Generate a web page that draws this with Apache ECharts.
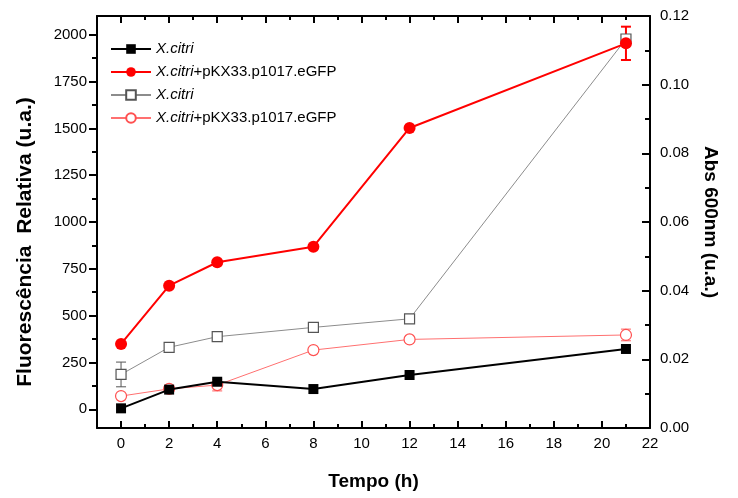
<!DOCTYPE html>
<html>
<head>
<meta charset="utf-8">
<script src="https://cdn.jsdelivr.net/npm/echarts@6/dist/echarts.min.js"></script>
<style>
html,body{margin:0;padding:0;background:#fff;}
#chart{width:738px;height:498px;}
</style>
</head>
<body>
<div id="chart"></div>
<script>
// tempo (h)
const hours = [0, 2, 4, 8, 12, 21]
// fluorescencia relativa (eixo esquerdo)
const fluorWT = [5, 105, 147, 108, 183, 322]
const fluorGFP = [349, 660, 785, 868, 1502, 1954]
const fluorGFPErr = [0, 0, 0, 0, 0, 89]
// absorbancia 600nm (eixo direito)
const absWT = [0.0156, 0.0235, 0.0266, 0.0293, 0.0318, 0.1133]
const absWTErr = [0.0036, 0, 0, 0, 0, 0]
const absGFP = [0.0093, 0.0114, 0.0125, 0.0227, 0.0258, 0.0271]
const absGFPErr = [0, 0, 0.0017, 0, 0, 0.0017]
// ticks
const xMajor = [0, 2, 4, 6, 8, 10, 12, 14, 16, 18, 20, 22]
const xMinor = [1, 3, 5, 7, 9, 11, 13, 15, 17, 19, 21]
const yMajor = [0, 250, 500, 750, 1000, 1250, 1500, 1750, 2000]
const yMinor = [125, 375, 625, 875, 1125, 1375, 1625, 1875]

const legendNames = {
    wtFl: '{i|X.citri}',
    gfpFl: '{i|X.citri}+pKX33.p1017.eGFP',
    wtAbs: '{i|X.citri}',
    gfpAbs: '{i|X.citri}+pKX33.p1017.eGFP'
}

function pairs(ys){
    return hours.map(function(h, i){ return [h, ys[i]] })
}
function errData(ys, errs){
    let arr = []
    hours.forEach(function(h, i){
        if (errs[i] > 0) arr.push([h, ys[i], errs[i]])
    })
    return arr
}
function errSeries(ys, errs, yIdx, color, width){
    return {
        type: 'custom',
        xAxisIndex: 0,
        yAxisIndex: yIdx,
        z: 1,
        silent: true,
        data: errData(ys, errs),
        renderItem: function(params, api){
            let x = api.value(0), y = api.value(1), e = api.value(2)
            let top = api.coord([x, y + e])
            let bot = api.coord([x, y - e])
            let cw = 5
            let st = {stroke: color, lineWidth: width}
            return {
                type: 'group',
                children: [
                    {type: 'line', shape: {x1: top[0], y1: top[1], x2: bot[0], y2: bot[1]}, style: st},
                    {type: 'line', shape: {x1: top[0] - cw, y1: top[1], x2: top[0] + cw, y2: top[1]}, style: st},
                    {type: 'line', shape: {x1: bot[0] - cw, y1: bot[1], x2: bot[0] + cw, y2: bot[1]}, style: st}
                ]
            }
        }
    }
}

const font = 'Liberation Sans, Arial, sans-serif'
const axisLine = {show: true, onZero: false, lineStyle: {color: '#000', width: 2}}
const noLine = {show: false, onZero: false}
const tickStyle = {color: '#000', width: 2}

const chart = echarts.init(document.getElementById('chart'))
const option = {
    animation: false,
    textStyle: {fontFamily: font},
    grid: {left: 97, right: 88, top: 16, bottom: 70},
    legend: {
        orient: 'vertical',
        left: 105,
        top: 35,
        itemWidth: 40,
        itemHeight: 12,
        itemGap: 5,
        data: ['wtFl', 'gfpFl', 'wtAbs', 'gfpAbs'],
        formatter: function(name){ return legendNames[name] },
        textStyle: {
            fontSize: 15, color: '#000', fontFamily: font, lineHeight: 18,
            rich: {i: {fontStyle: 'italic', fontSize: 15, color: '#000', fontFamily: font, lineHeight: 18}}
        }
    },
    xAxis: [
        {
            type: 'value', position: 'bottom', min: -1, max: 22,
            name: 'Tempo (h)', nameLocation: 'middle', nameGap: 44,
            nameTextStyle: {fontSize: 19, fontWeight: 'bold', color: '#000'},
            axisLine: axisLine,
            axisTick: {show: true, inside: true, length: 7, customValues: xMajor, lineStyle: tickStyle},
            axisLabel: {customValues: xMajor, fontSize: 15, color: '#000', margin: 8},
            splitLine: {show: false}
        },
        {
            type: 'value', position: 'bottom', min: -1, max: 22,
            axisLine: noLine,
            axisTick: {show: true, inside: true, length: 4, customValues: xMinor, lineStyle: tickStyle},
            axisLabel: {show: false},
            splitLine: {show: false}
        },
        {
            type: 'value', position: 'top', min: -1, max: 22,
            axisLine: axisLine,
            axisTick: {show: true, inside: true, length: 7, customValues: xMajor, lineStyle: tickStyle},
            axisLabel: {show: false},
            splitLine: {show: false}
        },
        {
            type: 'value', position: 'top', min: -1, max: 22,
            axisLine: noLine,
            axisTick: {show: true, inside: true, length: 4, customValues: xMinor, lineStyle: tickStyle},
            axisLabel: {show: false},
            splitLine: {show: false}
        }
    ],
    yAxis: [
        {
            type: 'value', position: 'left', min: -100, max: 2100,
            name: 'Fluorescência  Relativa (u.a.)', nameLocation: 'middle', nameGap: 61,
            nameTextStyle: {fontSize: 21, fontWeight: 'bold', color: '#000', padding: [0, 40, 0, 0]},
            axisLine: axisLine,
            axisTick: {show: true, inside: false, length: 8, customValues: yMajor, lineStyle: tickStyle},
            axisLabel: {customValues: yMajor, fontSize: 15, color: '#000', margin: 10,
                formatter: function(v){ return String(v) }},
            splitLine: {show: false}
        },
        {
            type: 'value', position: 'left', min: -100, max: 2100,
            axisLine: noLine,
            axisTick: {show: true, inside: false, length: 5, customValues: yMinor, lineStyle: tickStyle},
            axisLabel: {show: false},
            splitLine: {show: false}
        },
        {
            type: 'value', position: 'right', min: 0, max: 0.12, interval: 0.02,
            name: 'Abs 600nm (u.a.)', nameLocation: 'middle', nameGap: 51, nameRotate: -90,
            nameTextStyle: {fontSize: 19, fontWeight: 'bold', color: '#000'},
            axisLine: axisLine,
            axisTick: {show: true, inside: true, length: 8, lineStyle: tickStyle},
            minorTick: {show: true, splitNumber: 2, length: 5, lineStyle: tickStyle},
            axisLabel: {fontSize: 15, color: '#000', margin: 10, formatter: function(v){ return v.toFixed(2) }},
            splitLine: {show: false}
        }
    ],
    series: [
        errSeries(fluorGFP, fluorGFPErr, 0, '#ff0000', 2),
        errSeries(absWT, absWTErr, 2, '#555', 1),
        errSeries(absGFP, absGFPErr, 2, '#ff6060', 1),
        {
            name: 'wtAbs', type: 'line', xAxisIndex: 0, yAxisIndex: 2, z: 2,
            data: pairs(absWT),
            symbol: 'rect', symbolSize: 10,
            lineStyle: {color: '#8c8c8c', width: 1},
            itemStyle: {color: '#fff', borderColor: '#555', borderWidth: 1.2}
        },
        {
            name: 'gfpAbs', type: 'line', xAxisIndex: 0, yAxisIndex: 2, z: 2,
            data: pairs(absGFP),
            symbol: 'circle', symbolSize: 11,
            lineStyle: {color: '#ff7070', width: 1},
            itemStyle: {color: '#fff', borderColor: '#ff5050', borderWidth: 1.2}
        },
        {
            name: 'wtFl', type: 'line', xAxisIndex: 0, yAxisIndex: 0, z: 3,
            data: pairs(fluorWT),
            symbol: 'rect', symbolSize: 10,
            lineStyle: {color: '#000', width: 2},
            itemStyle: {color: '#000'}
        },
        {
            name: 'gfpFl', type: 'line', xAxisIndex: 0, yAxisIndex: 0, z: 3,
            data: pairs(fluorGFP),
            symbol: 'circle', symbolSize: 12,
            lineStyle: {color: '#ff0000', width: 2},
            itemStyle: {color: '#ff0000'}
        }
    ]
}
chart.setOption(option)
</script>
</body>
</html>
